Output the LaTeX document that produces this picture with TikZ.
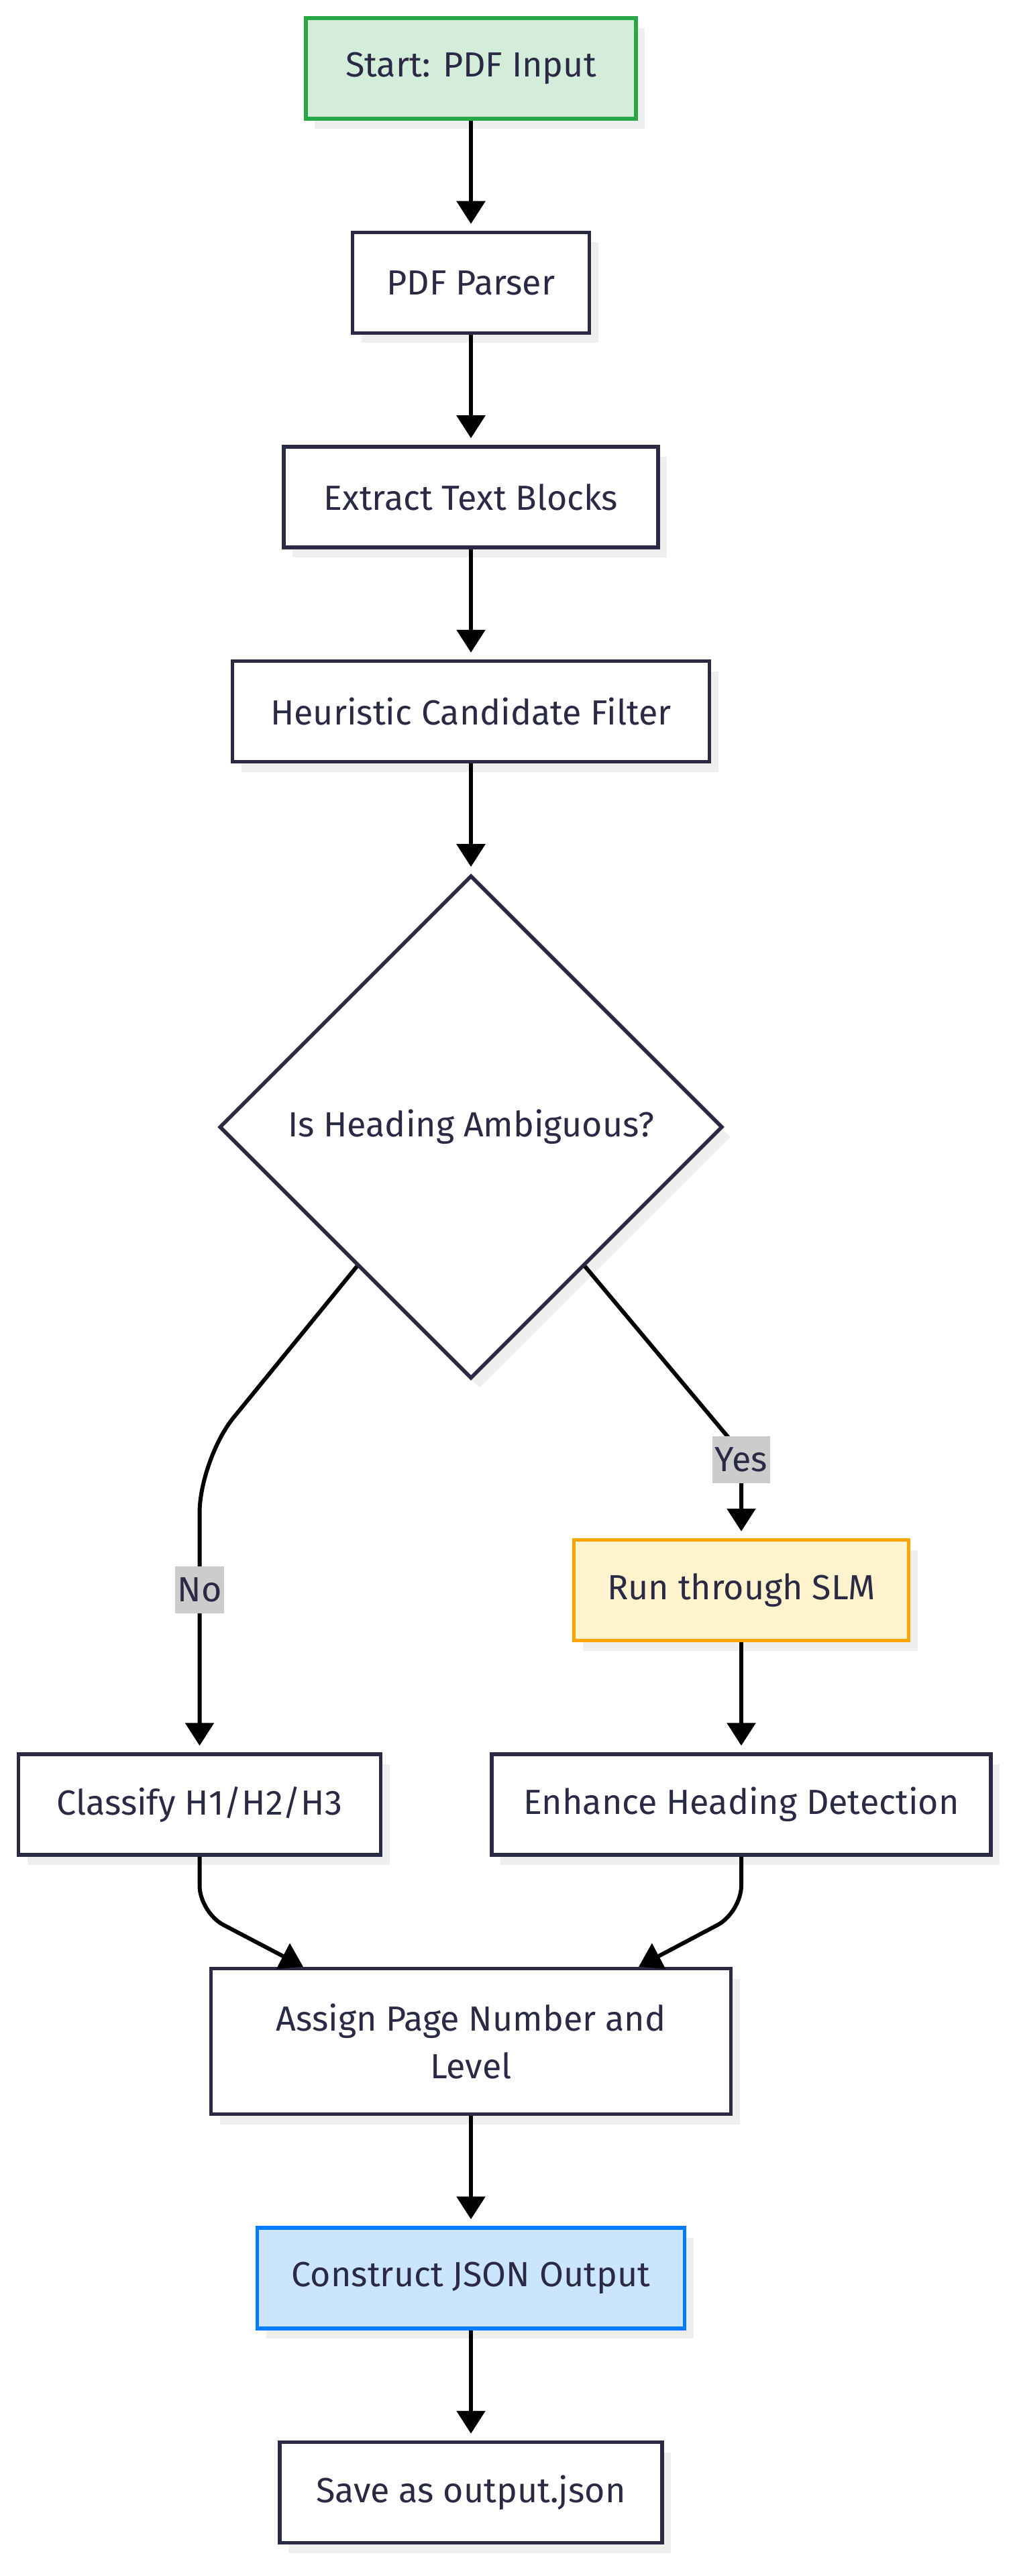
\documentclass[tikz,border=0pt]{standalone}
\usepackage{fontspec}
\setmainfont{Fira Sans}
\usepackage{tikz}
\usetikzlibrary{calc, positioning, shapes, arrows.meta, shadows}

\definecolor{tinta}{RGB}{42,42,68}
\definecolor{verde}{HTML}{28A745}
\definecolor{verdeclaro}{HTML}{D4EDDA}
\definecolor{naranja}{HTML}{FFA500}
\definecolor{amarillo}{HTML}{FFF3CD}
\definecolor{azul}{HTML}{007BFF}
\definecolor{azulclaro}{HTML}{CCE5FF}
\definecolor{sombra}{HTML}{EFEFEF}
\definecolor{etiqueta}{HTML}{CCCCCC}

\begin{document}
\begin{tikzpicture}[
	font=\fontsize{14.8}{20}\selectfont,
	caja/.style={draw=tinta, fill=white, line width=0.055cm, text=tinta, minimum height=1.5cm, inner xsep=2pt, drop shadow={shadow xshift=0.13cm, shadow yshift=-0.15cm, fill=sombra, opacity=1}},
	rombo/.style={diamond, draw=tinta, fill=white, line width=0.055cm, text=tinta, minimum width=7.5cm, minimum height=7.5cm, inner sep=0pt, drop shadow={shadow xshift=0.13cm, shadow yshift=-0.15cm, fill=sombra, opacity=1}},
	flecha/.style={black, line width=0.06cm, arrows={-Triangle[length=0.34cm, width=0.42cm]}},
	etq/.style={fill=etiqueta, text=tinta, inner xsep=1pt, inner ysep=0pt, minimum height=0.7cm},
	node distance=1.64cm
]
	\useasboundingbox (0,0) rectangle (15.15,-38.4);

	%Cajas
	\node[caja, fill=verdeclaro, draw=verde, minimum width=4.92cm] (ini) at (7.02,-1.02) {Start: PDF Input};
	\node[caja, minimum width=3.53cm, below=of ini] (par) {PDF Parser};
	\node[caja, minimum width=5.58cm, below=of par] (ext) {Extract Text Blocks};
	\node[caja, minimum width=7.11cm, below=of ext] (heu) {Heuristic Candidate Filter};

	%Decisión
	\node[rombo, below=of heu] (dec) {Is Heading Ambiguous?};
	\node[caja, fill=amarillo, draw=naranja, minimum width=4.99cm, below=2.35cm of dec, xshift=4.03cm] (slm) {Run through SLM};
	\node[caja, minimum width=7.44cm, below=of slm] (enh) {Enhance Heading Detection};
	\node[caja, minimum width=5.40cm, left=1.60cm of enh] (cls) {Classify H1/H2/H3};

	%Salida
	\coordinate (medio) at (dec.south |- enh.south);
	\node[caja, minimum width=7.75cm, minimum height=2.17cm, align=center, below=of medio] (asg) {Assign Page Number and\\Level};
	\node[caja, fill=azulclaro, draw=azul, minimum width=6.37cm, below=of asg] (con) {Construct JSON Output};
	\node[caja, minimum width=5.70cm, below=of con] (sav) {Save as output.json};

	%Flechas
	\draw[flecha, shorten >=0.1cm] (ini) -- (par);
	\draw[flecha, shorten >=0.1cm] (par) -- (ext);
	\draw[flecha, shorten >=0.1cm] (ext) -- (heu);
	\draw[flecha, shorten >=0.1cm] (heu) -- (dec);
	\draw[flecha, shorten >=0.1cm, rounded corners=0.8cm] ($(dec.west)!0.55!(dec.south)$) -- ($(cls.north)+(0,4.37)$) -- (cls.north);
	\draw[flecha, shorten >=0.1cm, rounded corners=0.3cm] ($(dec.east)!0.55!(dec.south)$) -- ($(slm.north)+(0,1.27)$) -- (slm.north);
	\draw[flecha, shorten >=0.1cm] (slm) -- (enh);
	\draw[flecha, rounded corners=0.4cm] (cls.south) -- ++(0,-0.83) -- ([xshift=-2.5cm]asg.north);
	\draw[flecha, rounded corners=0.4cm] (enh.south) -- ++(0,-0.83) -- ([xshift=2.5cm]asg.north);
	\draw[flecha, shorten >=0.1cm] (asg) -- (con);
	\draw[flecha, shorten >=0.1cm] (con) -- (sav);

	%Etiquetas
	\node[etq] (no) at ($(cls.north)+(0,2.42)$) {No};
	\node[etq] (si) at ($(slm.north)+(0,1.17)$) {Yes};
\end{tikzpicture}
\end{document}
